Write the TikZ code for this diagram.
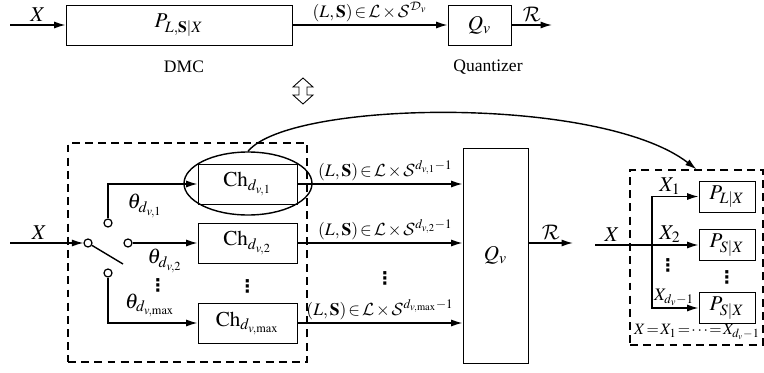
\documentclass[tikz,border=0pt]{standalone}
\usepackage{mathptmx}
\usepackage[no-math]{fontspec}
\setmainfont{Liberation Serif}
\newfontfamily\dotfont{DejaVu Sans}
\DeclareMathAlphabet{\mathcal}{OMS}{cmsy}{m}{n}
\usetikzlibrary{arrows.meta,shapes.geometric}

\newcommand{\pairin}[1]{(L,\mathbf{S})\,{\in}\,\mathcal{L}\,{\times}\,\mathcal{S}^{#1}}

\begin{document}
\begin{tikzpicture}[x=0.02cm, y=-0.02cm, line width=0.8pt,
    >={Latex[length=6.5pt,width=4pt]},
    every node/.style={font=\large},
    blk/.style={draw, rectangle, line width=0.5pt, inner sep=0pt},
    chbox/.style={blk, minimum width=1.98cm, minimum height=0.8cm},
    pbox/.style={blk, minimum width=1.12cm, minimum height=0.62cm},
    dashbox/.style={draw, rectangle, dash pattern=on 4.5pt off 3pt, inner sep=0pt},
    oval/.style={draw, ellipse, inner sep=0pt, minimum width=2.56cm, minimum height=1.26cm},
    sw/.style={draw, circle, fill=white, line width=0.7pt, inner sep=0pt, minimum size=0.16cm},
    txt/.style={font=\normalsize},
    vd/.style={font=\normalsize\dotfont\bfseries, inner sep=0pt},
    lbl/.style={above, inner sep=1.5pt},
    pl/.style={above, inner sep=1.5pt, font=\normalsize}]
  \useasboundingbox (0,0) rectangle (764,372);
  {
    \node[blk, minimum width=4.52cm, minimum height=0.8cm] (P) at (179,25) {$P_{L,\mathbf{S}|X}$};
    \node[blk, minimum width=1.26cm, minimum height=0.8cm] (Qt) at (479.5,25) {$Q_v$};
    \node[txt] (dmc) at (184,67) {DMC};
    \node[txt] (qz) at (488,67) {Quantizer};
    \coordinate (xt) at (10,25);
    \coordinate (rt) at (552,25);

    \node[dashbox, minimum width=4.78cm, minimum height=4.38cm] (lb) at (187.5,252.5) {};
    \node[dashbox, minimum width=2.66cm, minimum height=3.5cm] (rb) at (696.5,257.5) {};

    \node[chbox] (ch1) at (247.5,184) {$\mathrm{Ch}_{d_{v,1}}$};
    \node[chbox] (ch2) at (247.5,243) {$\mathrm{Ch}_{d_{v,2}}$};
    \node[chbox] (ch3) at (247.5,323) {$\mathrm{Ch}_{d_{v,\max}}$};
    \node[oval] (e) at (248,183.5) {};

    \node[sw] (s0) at (88,243) {};
    \node[sw] (s1) at (108,223) {};
    \node[sw] (s2) at (128,243) {};
    \node[sw] (s3) at (108,273) {};
    \coordinate (xl) at (10,243);
    \coordinate (lv) at (123,264);

    \node (t1) at (145,206) {$\theta_{d_{v,1}}$};
    \node (t2) at (165,261) {$\theta_{d_{v,2}}$};
    \node (t3) at (150,305) {$\theta_{d_{v,\max}}$};

    \node[blk, minimum width=1.3cm, minimum height=4.3cm] (Q) at (495.5,255.5) {$Q_v$};
    \coordinate (r) at (573,243);

    \coordinate (xr) at (595,245);
    \coordinate (j) at (652,245);
    \node[pbox] (pa) at (727,196.5) {$P_{L|X}$};
    \node[pbox] (pb) at (727,245) {$P_{S|X}$};
    \node[pbox] (pc) at (727,308) {$P_{S|X}$};
    \node (x1) at (670,186) {$X_1$};
    \node (x2) at (670,234) {$X_2$};
    \node[txt] (x3) at (674,297) {$X_{d_v-1}$};
    \node[font=\small] (eqn) at (697,332) {\thickmuskip=1.5mu $X=X_1=\cdots=X_{d_v-1}$};

    \node[vd] (d1) at (158,285) {⋮};
    \node[vd] (d2) at (247.5,286) {⋮};
    \node[vd] (d3) at (385,278) {⋮};
    \node[vd] (d4) at (668,265) {⋮};
    \node[vd] (d5) at (727,277) {⋮};
  }

  \draw[->] (xt) -- node[lbl] {$X$} (P);
  \draw[->] (P) -- node[pl] {$\pairin{\mathcal{D}_v}$} (Qt);
  \draw[->] (Qt) -- node[lbl] {$\mathcal{R}$} (rt);

  \draw[line width=0.5pt] (303,78) -- (313,87) -- (307,87) -- (307,95) -- (313,95) -- (303,104)
    -- (293,95) -- (299,95) -- (299,87) -- (293,87) -- cycle;

  \draw[->] (xl) -- node[lbl, pos=0.4] {$X$} (s0);
  \draw (s0) -- (lv);
  \draw[->] (s1) |- (ch1);
  \draw[->] (s2) -- (ch2);
  \draw[->] (s3) |- (ch3);

  \draw[->] (ch1) -- node[pl, xshift=3pt] {$\pairin{d_{v,1}-1}$} (ch1 -| Q.west);
  \draw[->] (ch2) -- node[pl, xshift=3pt] {$\pairin{d_{v,2}-1}$} (ch2 -| Q.west);
  \draw[->] (ch3) -- node[pl] {$\pairin{d_{v,\max}-1}$} (ch3 -| Q.west);
  \draw[->] (Q.east |- r) -- node[lbl] {$\mathcal{R}$} (r);

  \draw (xr) -- node[lbl, pos=0.3] {$X$} (j);
  \draw[->] (j) |- (pa);
  \draw[->] (j) -- (pb);
  \draw[->] (j) |- (pc);

  \draw[->] (e.north) .. controls (290,100) and (600,95) .. (rb.north);
\end{tikzpicture}
\end{document}
